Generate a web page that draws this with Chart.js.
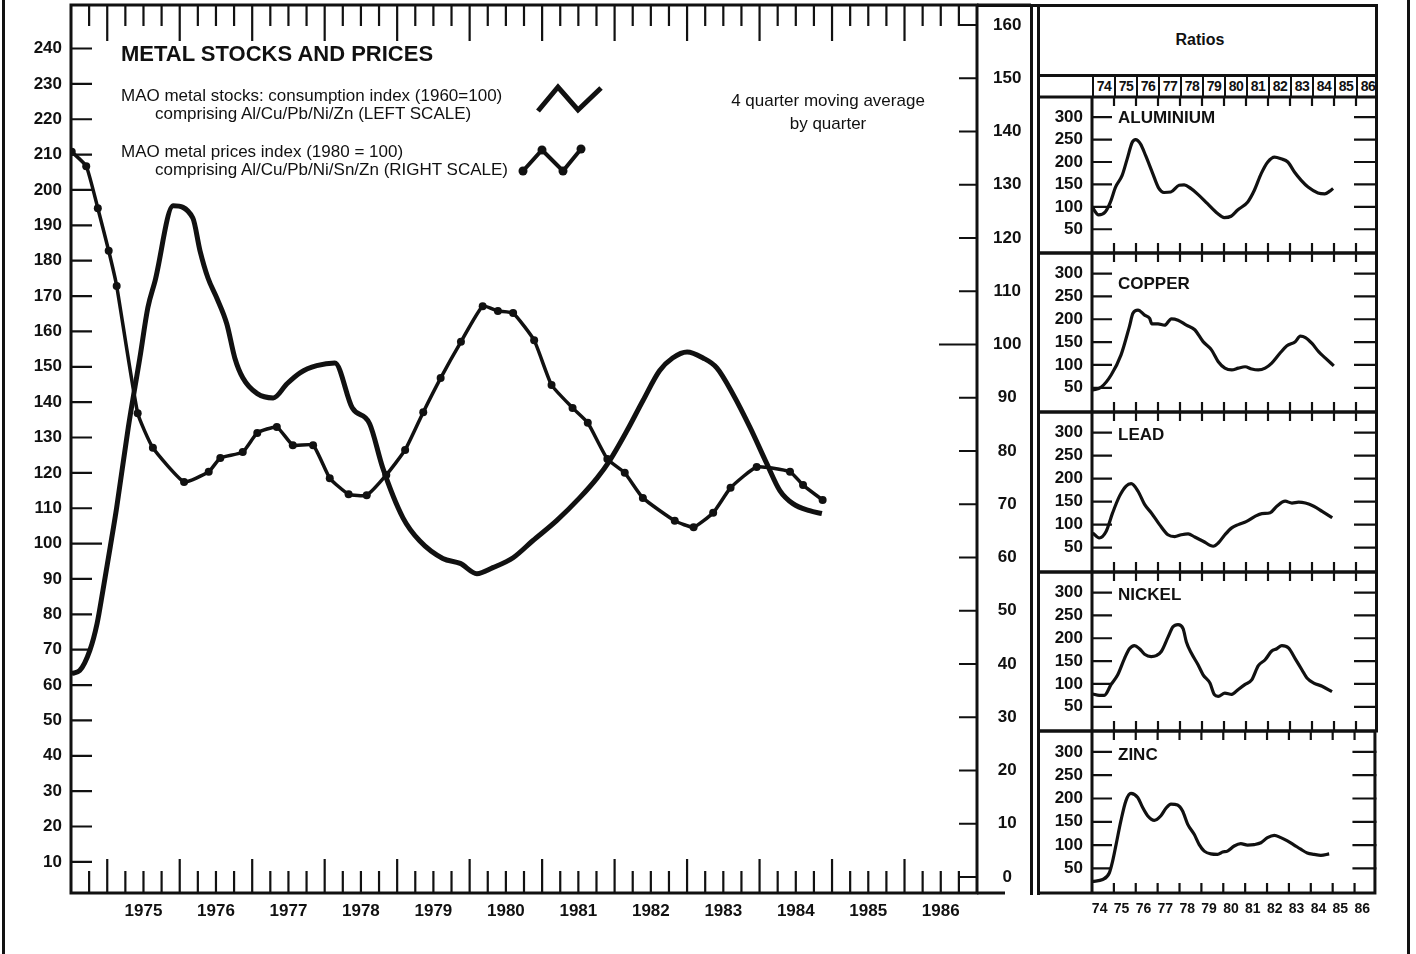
<!DOCTYPE html>
<html>
<head>
<meta charset="utf-8">
<title>Metal stocks and prices</title>
<script src="https://cdn.jsdelivr.net/npm/chart.js@4.4.1/dist/chart.umd.min.js"></script>
<style>
  body {
    margin: 0;
    width: 1416px;
    height: 954px;
    position: relative;
    overflow: hidden;
    background: #fff;
    color: #111;
    font-family: "Liberation Sans", Arial, sans-serif;
  }
  canvas, .txt, .rule, svg { position: absolute; }
  .rule { background: #111; }
  .txt { white-space: nowrap; line-height: 1; }
  .bold { font-weight: bold; }
  #year-row {
    position: absolute; left: 1092px; top: 76px; width: 286px; height: 21px; display: flex;
  }
  #year-row div {
    flex: 1; border-left: 2px solid #111; text-align: center;
    font: bold 14px "Liberation Sans", Arial, sans-serif; line-height: 21px; letter-spacing: -0.5px;
  }
</style>
</head>
<body>

<!-- page frame and ratio box rules -->
<div class="rule" style="left:2px;top:0;width:3px;height:954px"></div>
<div class="rule" style="left:1407px;top:0;width:3px;height:954px"></div>
<div class="rule" style="left:977px;top:4px;width:401px;height:3px"></div>
<div class="rule" style="left:1030px;top:4px;width:3px;height:891px"></div>
<div class="rule" style="left:1037px;top:4px;width:3px;height:891px"></div>
<div class="rule" style="left:1375px;top:4px;width:3px;height:93px"></div>
<div class="rule" style="left:1037px;top:74px;width:341px;height:3px"></div>

<canvas id="main-chart" width="1031" height="984" style="left:0;top:-30px"></canvas>

<!-- titles and legend -->
<div class="txt bold" style="left:121px;top:43px;font-size:22px">METAL STOCKS AND PRICES</div>
<div class="txt" style="left:121px;top:87px;font-size:17px">MAO metal stocks: consumption index (1960=100)</div>
<div class="txt" style="left:155px;top:105px;font-size:17px">comprising Al/Cu/Pb/Ni/Zn (LEFT SCALE)</div>
<div class="txt" style="left:121px;top:143px;font-size:17px">MAO metal prices index (1980 = 100)</div>
<div class="txt" style="left:155px;top:161px;font-size:17px">comprising Al/Cu/Pb/Ni/Sn/Zn (RIGHT SCALE)</div>
<svg style="left:530px;top:80px" width="80" height="40">
  <polyline points="8,31 28,7 48,30 71,8" fill="none" stroke="#111" stroke-width="5"/>
</svg>
<svg style="left:515px;top:140px" width="75" height="40">
  <polyline points="8,31 27,10 48,31 66,9" fill="none" stroke="#111" stroke-width="4"/>
  <circle cx="8" cy="31" r="4.5" fill="#111"/>
  <circle cx="27" cy="10" r="4.5" fill="#111"/>
  <circle cx="48" cy="31" r="4.5" fill="#111"/>
  <circle cx="66" cy="9" r="4.5" fill="#111"/>
</svg>
<div class="txt" style="left:728px;top:92px;width:200px;text-align:center;font-size:17px">4 quarter moving average</div>
<div class="txt" style="left:728px;top:115px;width:200px;text-align:center;font-size:17px">by quarter</div>

<div class="txt bold" style="left:1100px;top:32px;width:200px;text-align:center;font-size:16px">Ratios</div>
<div id="year-row"></div>

<script>
'use strict';

// ************* Data **************
const INK = '#111';

let stockYears = [1974.51, 1974.62, 1974.76, 1974.86, 1974.94, 1975.04, 1975.13, 1975.29, 1975.45, 1975.56,
  1975.66, 1975.91, 1976.18, 1976.28, 1976.39, 1976.51, 1976.65, 1976.76, 1976.87, 1977.07,
  1977.29, 1977.48, 1977.66, 1977.89, 1978.14, 1978.38, 1978.62, 1978.80, 1979.08, 1979.31,
  1979.63, 1979.87, 1980.10, 1980.32, 1980.60, 1980.87, 1981.20, 1981.52, 1981.76, 1981.93,
  1982.17, 1982.39, 1982.62, 1982.80, 1983.00, 1983.22, 1983.41, 1983.63, 1983.87, 1984.10,
  1984.28, 1984.46, 1984.69, 1984.86];
let stockValues = [63.3, 64.1, 69.8, 77.4, 86.7, 98.9, 110.2, 132.8, 152.5, 166.7,
  174.3, 195.5, 192.1, 182.8, 175.1, 169.5, 162.1, 152.5, 146.9, 142.4,
  141.2, 145.2, 148.3, 150.3, 151.1, 138.4, 133.9, 121.5, 107.3, 100.8,
  95.8, 94.4, 91.5, 93.2, 96.0, 100.8, 106.5, 113.0, 118.6, 123.4,
  131.9, 140.4, 148.9, 152.5, 154.2, 152.5, 149.7, 142.4, 132.8, 122.6,
  115.0, 111.3, 109.3, 108.5];

let priceYears = [1974.51, 1974.71, 1974.87, 1975.02, 1975.13, 1975.42, 1975.63, 1976.06, 1976.40, 1976.56,
  1976.87, 1977.07, 1977.34, 1977.56, 1977.84, 1978.07, 1978.33, 1978.58, 1978.85, 1979.11,
  1979.36, 1979.60, 1979.88, 1980.18, 1980.39, 1980.60, 1980.89, 1981.13, 1981.42, 1981.63,
  1981.90, 1982.14, 1982.39, 1982.83, 1983.09, 1983.36, 1983.60, 1983.96, 1984.42, 1984.60,
  1984.87];
let priceValues = [136.2, 133.5, 125.6, 117.6, 111.0, 87.1, 80.6, 74.2, 76.1, 78.7,
  79.8, 83.4, 84.5, 81.1, 81.1, 74.9, 71.9, 71.7, 75.5, 80.2,
  87.3, 93.7, 100.5, 107.2, 106.3, 105.9, 100.8, 92.4, 88.1, 85.3,
  78.5, 75.9, 71.2, 66.9, 65.7, 68.4, 73.1, 77.0, 76.1, 73.6,
  70.8];

let leftTicks = [10, 20, 30, 40, 50, 60, 70, 80, 90, 100, 110, 120, 130, 140, 150, 160, 170, 180, 190, 200, 210, 220, 230, 240];
let rightTicks = [0, 10, 20, 30, 40, 50, 60, 70, 80, 90, 100, 110, 120, 130, 140, 150, 160];
let yearLabels = ['1975', '1976', '1977', '1978', '1979', '1980', '1981', '1982', '1983', '1984', '1985', '1986'];

// ratio panels
let panelNames = ['ALUMINIUM', 'COPPER', 'LEAD', 'NICKEL', 'ZINC'];
let ratioTicks = [50, 100, 150, 200, 250, 300];
let ratioYears = ['74', '75', '76', '77', '78', '79', '80', '81', '82', '83', '84', '85', '86'];

let aluYears = [74.00, 74.30, 74.61, 74.84, 75.07, 75.37, 75.60, 75.83, 75.98, 76.21, 76.44, 76.74, 77.04,
  77.27, 77.58, 77.96, 78.19, 78.49, 78.79, 79.25, 79.71, 80.01, 80.32, 80.62, 81.08, 81.38,
  81.69, 81.99, 82.30, 82.60, 82.90, 83.21, 83.51, 83.82, 84.27, 84.58, 84.81, 84.96];
let aluValues = [100, 82, 89, 111, 144, 170, 207, 244, 250, 240, 214, 177, 141,
  132, 133, 148, 149, 141, 129, 107, 85, 76, 79, 93, 111, 137,
  174, 200, 211, 207, 200, 177, 159, 144, 131, 129, 135, 141];

let copperYears = [74.03, 74.41, 74.87, 75.32, 75.70, 75.86, 76.09, 76.39, 76.62, 76.72, 77.00, 77.30,
  77.61, 77.91, 78.29, 78.67, 79.05, 79.43, 79.74, 80.04, 80.35, 80.65, 80.96, 81.26,
  81.56, 81.87, 82.17, 82.55, 82.86, 83.24, 83.47, 83.70, 84.00, 84.30, 84.61, 84.99];
let copperValues = [45, 51, 78, 122, 184, 213, 220, 209, 202, 190, 190, 187,
  201, 198, 187, 177, 151, 133, 107, 93, 89, 93, 96, 91,
  89, 93, 104, 126, 142, 151, 163, 160, 147, 129, 115, 98];

let leadYears = [74.03, 74.33, 74.64, 74.94, 75.25, 75.55, 75.78, 76.09, 76.39, 76.69, 77.07, 77.45,
  77.76, 78.06, 78.37, 78.67, 79.05, 79.51, 79.74, 80.04, 80.35, 80.65, 81.03, 81.41,
  81.72, 82.10, 82.40, 82.78, 83.09, 83.39, 83.70, 84.08, 84.46, 84.92];
let leadValues = [82, 71, 85, 126, 162, 184, 189, 173, 144, 126, 100, 78,
  74, 78, 80, 73, 64, 53, 60, 78, 93, 100, 107, 118,
  124, 126, 140, 151, 147, 149, 147, 140, 129, 115];

let nickelYears = [74.03, 74.33, 74.56, 74.87, 75.17, 75.48, 75.70, 75.93, 76.16, 76.39, 76.69, 76.92,
  77.15, 77.46, 77.68, 77.91, 78.14, 78.29, 78.52, 78.82, 79.05, 79.36, 79.56, 79.74,
  80.04, 80.35, 80.65, 80.96, 81.26, 81.56, 81.87, 82.17, 82.40, 82.63, 82.93, 83.24,
  83.54, 83.77, 84.08, 84.46, 84.91];
let nickelValues = [78, 75, 75, 99, 120, 156, 177, 184, 177, 165, 160, 162,
  171, 203, 225, 230, 221, 192, 167, 142, 120, 102, 77, 73,
  80, 77, 88, 99, 109, 140, 153, 172, 177, 184, 179, 155,
  131, 113, 102, 95, 83];

let zincYears = [74.03, 74.49, 74.79, 74.94, 75.10, 75.32, 75.55, 75.78, 76.09, 76.31, 76.54, 76.85,
  77.15, 77.38, 77.61, 77.91, 78.14, 78.37, 78.67, 78.90, 79.13, 79.43, 79.74, 79.97,
  80.19, 80.50, 80.80, 81.11, 81.41, 81.72, 82.02, 82.33, 82.63, 82.93, 83.24, 83.54,
  83.84, 84.15, 84.46, 84.84];
let zincValues = [22, 26, 40, 65, 101, 152, 195, 211, 202, 181, 163, 153,
  163, 179, 188, 186, 173, 145, 123, 101, 87, 81, 80, 85,
  87, 98, 103, 100, 101, 105, 116, 121, 116, 109, 100, 91,
  83, 80, 78, 81];

// ************* Layout **************
let panelTops = [97, 253, 412, 572, 731];
let panelBottom = 893;
let nameOffsets = [12, 22, 14, 14, 15];

Chart.defaults.font.family = '"Liberation Sans", Arial, sans-serif';
Chart.defaults.color = INK;

function toPoints(xs, ys) {
  return xs.map((x, i) => ({ x: x, y: ys[i] }));
}

// ************* Main chart **************
const mainMarks = {
  id: 'mainMarks',
  afterDraw(chart) {
    let { ctx, chartArea: a, scales } = chart;
    let x = scales.x;
    ctx.save();
    ctx.strokeStyle = INK;
    ctx.lineWidth = 3;
    ctx.strokeRect(a.left, a.top, a.right - a.left, a.bottom - a.top);
    ctx.beginPath();
    ctx.moveTo(a.right, a.top);
    ctx.lineTo(chart.width, a.top);
    ctx.moveTo(a.right, a.bottom);
    ctx.lineTo(a.right + 28, a.bottom);
    ctx.stroke();

    ctx.lineWidth = 2.2;
    ctx.beginPath();
    // quarter ticks, longer at year boundaries
    for (let k = 1; k < 50; k++) {
      let q = x.min + k * 0.25;
      let px = x.getPixelForValue(q);
      let isYear = Number.isInteger(q);
      ctx.moveTo(px, a.top);
      ctx.lineTo(px, a.top + (isYear ? 36 : 21));
      ctx.moveTo(px, a.bottom);
      ctx.lineTo(px, a.bottom - (isYear ? 34 : 22));
    }
    leftTicks.forEach(v => {
      let py = scales.y.getPixelForValue(v);
      ctx.moveTo(a.left, py);
      ctx.lineTo(a.left + (v === 100 ? 31 : 21), py);
    });
    rightTicks.forEach(v => {
      let py = scales.y2.getPixelForValue(v);
      ctx.moveTo(a.right, py);
      ctx.lineTo(a.right - (v === 100 ? 38 : 18), py);
    });
    ctx.stroke();
    ctx.restore();
  }
};

new Chart(document.getElementById('main-chart'), {
  type: 'line',
  data: {
    datasets: [{
      label: 'MAO metal stocks: consumption index',
      data: toPoints(stockYears, stockValues),
      yAxisID: 'y',
      borderColor: INK,
      borderWidth: 5,
      pointRadius: 0,
      cubicInterpolationMode: 'monotone'
    },
    {
      label: 'MAO metal prices index',
      data: toPoints(priceYears, priceValues),
      yAxisID: 'y2',
      borderColor: INK,
      borderWidth: 3.5,
      pointRadius: 4,
      pointBorderWidth: 0,
      pointBackgroundColor: INK,
      tension: 0.15
    }]
  },
  options: {
    responsive: false,
    animation: false,
    events: [],
    layout: { padding: { top: 35, left: 0, right: 0, bottom: 0 } },
    plugins: { legend: { display: false }, tooltip: { enabled: false } },
    scales: {
      x: {
        type: 'linear',
        min: 1974.5,
        max: 1987,
        grid: { display: false, drawTicks: false },
        border: { display: false },
        afterBuildTicks: axis => { axis.ticks = yearLabels.map(l => ({ value: Number(l) + 0.5 })); },
        afterFit: scale => { scale.height = 61; },
        ticks: {
          callback: (value, index) => yearLabels[index],
          font: { size: 17, weight: 'bold' },
          padding: 8,
          autoSkip: false,
          maxRotation: 0
        }
      },
      y: {
        position: 'left',
        min: 1.2,
        max: 252.3,
        grid: { display: false, drawTicks: false },
        border: { display: false },
        afterBuildTicks: axis => { axis.ticks = leftTicks.map(v => ({ value: v })); },
        afterFit: scale => { scale.width = 71; },
        ticks: { font: { size: 17, weight: 'bold' }, padding: 9, autoSkip: false }
      },
      y2: {
        position: 'right',
        min: -3.0,
        max: 163.76,
        grid: { display: false, drawTicks: false },
        border: { display: false },
        afterBuildTicks: axis => { axis.ticks = rightTicks.map(v => ({ value: v })); },
        afterFit: scale => { scale.width = 54; },
        ticks: { font: { size: 17, weight: 'bold' }, padding: 16, crossAlign: 'center', autoSkip: false }
      }
    }
  },
  plugins: [mainMarks]
});

// ************* Ratio panels **************
let yearRow = document.getElementById('year-row');
ratioYears.forEach(y => {
  let cell = document.createElement('div');
  cell.textContent = y;
  yearRow.appendChild(cell);
});

const panelMarks = {
  id: 'panelMarks',
  afterDraw(chart) {
    let { ctx, chartArea: a, scales: { x, y } } = chart;
    ctx.save();
    ctx.strokeStyle = INK;
    ctx.lineWidth = 3;
    ctx.beginPath();
    ctx.moveTo(0, a.top);
    ctx.lineTo(a.right, a.top);
    ctx.moveTo(0, a.bottom);
    ctx.lineTo(a.right, a.bottom);
    ctx.moveTo(a.left, a.top);
    ctx.lineTo(a.left, a.bottom);
    ctx.moveTo(a.right - 1.5, a.top);
    ctx.lineTo(a.right - 1.5, a.bottom);
    ctx.stroke();

    ctx.lineWidth = 2.2;
    ctx.beginPath();
    ratioTicks.forEach(v => {
      let py = y.getPixelForValue(v);
      ctx.moveTo(a.left, py);
      ctx.lineTo(a.left + 20, py);
      ctx.moveTo(a.right, py);
      ctx.lineTo(a.right - 24, py);
    });
    ratioYears.slice(1).forEach(yr => {
      let px = x.getPixelForValue(Number(yr));
      ctx.moveTo(px, a.top);
      ctx.lineTo(px, a.top + 9);
      ctx.moveTo(px, a.bottom);
      ctx.lineTo(px, a.bottom - 10);
    });
    ctx.stroke();
    ctx.restore();
  }
};

function makePanel(i, years, values) {
  let top = panelTops[i];
  let bottom = i < panelTops.length - 1 ? panelTops[i + 1] : panelBottom;
  let isLast = i === panelTops.length - 1;

  let canvas = document.createElement('canvas');
  canvas.width = 340;
  canvas.height = (bottom - top) + 20 + (isLast ? 40 : 20);
  canvas.style.left = '1038px';
  canvas.style.top = (top - 20) + 'px';
  document.body.appendChild(canvas);

  let name = document.createElement('div');
  name.className = 'txt bold';
  name.style.left = '1118px';
  name.style.top = (top + nameOffsets[i]) + 'px';
  name.style.fontSize = '17px';
  name.textContent = panelNames[i];
  document.body.appendChild(name);

  new Chart(canvas, {
    type: 'line',
    data: {
      datasets: [{
        label: panelNames[i],
        data: toPoints(years, values),
        borderColor: INK,
        borderWidth: 3.2,
        pointRadius: 0,
        cubicInterpolationMode: 'monotone'
      }]
    },
    options: {
      responsive: false,
      animation: false,
      events: [],
      layout: { padding: { top: 20, bottom: isLast ? 0 : 20, left: 0, right: 0 } },
      plugins: { legend: { display: false }, tooltip: { enabled: false } },
      scales: {
        x: {
          type: 'linear',
          min: 74,
          max: 87,
          display: isLast,
          grid: { display: false, drawTicks: false },
          border: { display: false },
          afterBuildTicks: axis => { axis.ticks = ratioYears.map(v => ({ value: Number(v) + 0.35 })); },
          afterFit: scale => { if (isLast) scale.height = 40; },
          ticks: {
            callback: (value, index) => ratioYears[index],
            font: { size: 14, weight: 'bold' },
            padding: 8,
            autoSkip: false,
            maxRotation: 0
          }
        },
        y: {
          min: -3,
          max: 345,
          grid: { display: false, drawTicks: false },
          border: { display: false },
          afterBuildTicks: axis => { axis.ticks = ratioTicks.map(v => ({ value: v })); },
          afterFit: scale => { scale.width = 54; },
          ticks: { font: { size: 17, weight: 'bold' }, padding: 9, autoSkip: false }
        }
      }
    },
    plugins: [panelMarks]
  });
}

makePanel(0, aluYears, aluValues);
makePanel(1, copperYears, copperValues);
makePanel(2, leadYears, leadValues);
makePanel(3, nickelYears, nickelValues);
makePanel(4, zincYears, zincValues);
</script>
</body>
</html>
